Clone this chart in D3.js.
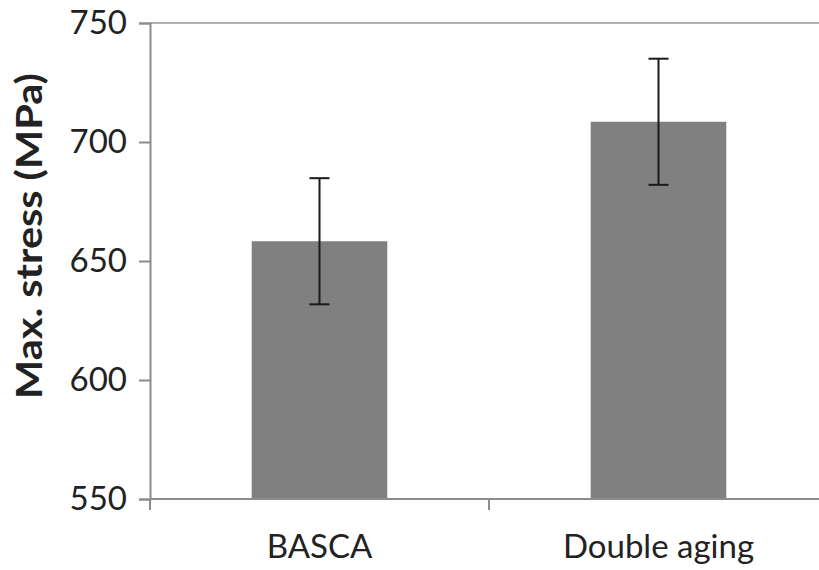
<!DOCTYPE html>
<html>
<head>
<meta charset="utf-8">
<script src="https://cdn.jsdelivr.net/npm/d3@7"></script>
<style>
  html, body { margin: 0; padding: 0; background: #fff; }
  svg { display: block; }
  text { font-family: Lato, "Open Sans", sans-serif; fill: #222; }
</style>
</head>
<body>
<svg id="chart" width="819" height="570"></svg>
<script>
const categories = ["BASCA", "Double aging"];
const values = [658.3, 708.5];
const errors = [26.5, 26.5];
const yTicks = [550, 600, 650, 700, 750];

const svg = d3.select("#chart");
const margin = { left: 150, top: 23, right: -9, bottom: 71 };
const W = 819, H = 570;
const x0 = margin.left, x1 = W - margin.right;
const yTop = margin.top, yBot = H - margin.bottom;

const x = d3.scaleBand().domain(categories).range([x0, x1]).paddingInner(0.6).paddingOuter(0.3);
const y = d3.scaleLinear().domain([550, 750]).range([yBot, yTop]);

const axisColor = "#8c8c8c";

// top line at max
svg.append("line").attr("x1", x0).attr("x2", x1).attr("y1", y(750)).attr("y2", y(750))
  .attr("stroke", "#b0b0b0").attr("stroke-width", 2);

// bars
svg.selectAll("rect.bar").data(categories).join("rect")
  .attr("class", "bar")
  .attr("x", d => x(d))
  .attr("width", x.bandwidth())
  .attr("y", (d, i) => y(values[i]))
  .attr("height", (d, i) => y(550) - y(values[i]))
  .attr("fill", "#808080");

// y axis
const yAxis = d3.axisLeft(y).tickValues(yTicks).tickSize(11).tickPadding(12);
const gy = svg.append("g").attr("transform", `translate(${x0},0)`).call(yAxis);
gy.select(".domain").attr("stroke", axisColor).attr("stroke-width", 2);
gy.selectAll(".tick line").attr("stroke", axisColor).attr("stroke-width", 2);
gy.selectAll(".tick text").style("font-size", "33px").attr("fill", "#222").style("font-family", "Lato, sans-serif");

// x axis
const gx = svg.append("g").attr("transform", `translate(0,${yBot})`);
gx.append("line").attr("x1", x0).attr("x2", x1).attr("stroke", axisColor).attr("stroke-width", 2);
const boundaries = [x0].concat(categories.map(c => x(c) + x.bandwidth() + x.step() * 0.3));
gx.selectAll("line.tk").data(boundaries).join("line").attr("class", "tk")
  .attr("x1", d => d).attr("x2", d => d).attr("y1", 0).attr("y2", 11)
  .attr("stroke", axisColor).attr("stroke-width", 2);
gx.selectAll("text").data(categories).join("text")
  .attr("x", d => x(d) + x.bandwidth() / 2)
  .attr("y", 59)
  .attr("text-anchor", "middle")
  .style("font-size", "33px")
  .text(d => d);

// error bars
const eb = svg.append("g");
categories.forEach((c, i) => {
  const cx = x(c) + x.bandwidth() / 2;
  const hi = y(values[i] + errors[i]), lo = y(values[i] - errors[i]);
  eb.append("line").attr("x1", cx).attr("x2", cx).attr("y1", hi).attr("y2", lo).attr("stroke", "#1a1a1a").attr("stroke-width", 2);
  [hi, lo].forEach(yy => eb.append("line").attr("x1", cx - 10).attr("x2", cx + 10).attr("y1", yy).attr("y2", yy).attr("stroke", "#1a1a1a").attr("stroke-width", 2));
});

// y axis title
svg.append("text")
  .attr("transform", `translate(42,236) rotate(-90)`)
  .attr("text-anchor", "middle")
  .attr("textLength", 326)
  .attr("lengthAdjust", "spacingAndGlyphs")
  .style("font-size", "36px")
  .style("font-weight", "bold")
  .text("Max. stress (MPa)");
</script>
</body>
</html>
